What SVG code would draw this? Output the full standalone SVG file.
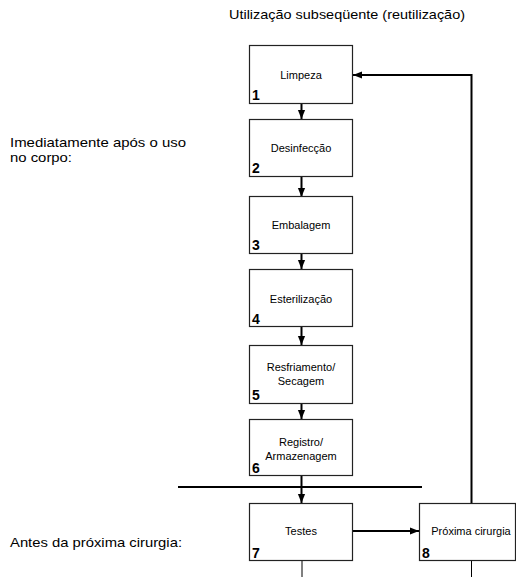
<svg xmlns="http://www.w3.org/2000/svg" width="516" height="577" viewBox="0 0 516 577">
<defs>
<marker id="ah" viewBox="0 0 10 10" refX="10" refY="5" markerWidth="4.5" markerHeight="4.5" orient="auto" markerUnits="strokeWidth">
<path d="M0,1 L10,5 L0,9 z" fill="#000"/>
</marker>
<style>
.box{fill:#fff;stroke:#222;stroke-width:1.2}
.lbl{font-family:"Liberation Sans",Arial,sans-serif;font-size:11px;fill:#000;text-anchor:middle}
.num{font-family:"Liberation Sans",Arial,sans-serif;font-size:14px;font-weight:bold;fill:#000}
.out{font-family:"Liberation Sans",Arial,sans-serif;font-size:13px;fill:#000}
.con{fill:none;stroke:#000;stroke-width:2}
.thin{fill:none;stroke:#000;stroke-width:1}
</style>
</defs>
<rect width="516" height="577" fill="#fff"/>
<text class="out" x="229" y="19" textLength="236" lengthAdjust="spacingAndGlyphs">Utilização subseqüente (reutilização)</text>
<text class="out" x="10" y="147" textLength="176" lengthAdjust="spacingAndGlyphs">Imediatamente após o uso</text>
<text class="out" x="10" y="162" textLength="62" lengthAdjust="spacingAndGlyphs">no corpo:</text>
<text class="out" x="10" y="547" textLength="172" lengthAdjust="spacingAndGlyphs">Antes da próxima cirurgia:</text>
<g id="connectors">
<line class="con" x1="301.5" y1="103" x2="301.5" y2="119" marker-end="url(#ah)"/>
<line class="con" x1="301.5" y1="177" x2="301.5" y2="197" marker-end="url(#ah)"/>
<line class="con" x1="301.5" y1="253" x2="301.5" y2="269" marker-end="url(#ah)"/>
<line class="con" x1="301.5" y1="327" x2="301.5" y2="345" marker-end="url(#ah)"/>
<line class="con" x1="301.5" y1="403" x2="301.5" y2="419" marker-end="url(#ah)"/>
<line class="con" x1="301.5" y1="475" x2="301.5" y2="503" marker-end="url(#ah)"/>
<line class="con" x1="178" y1="487" x2="422" y2="487"/>
<line class="con" x1="353" y1="531" x2="419" y2="531" marker-end="url(#ah)"/>
<polyline class="con" points="471.5,503 471.5,75 353,75" marker-end="url(#ah)"/>
<line class="thin" x1="302" y1="561" x2="302" y2="577"/>
<line class="thin" x1="471.5" y1="561" x2="471.5" y2="577"/>
</g>
<g id="n1"><rect class="box" x="249.5" y="45.5" width="103" height="58"/><text class="lbl" x="301" y="79">Limpeza</text><text class="num" x="252" y="100">1</text></g>
<g id="n2"><rect class="box" x="249.5" y="119.5" width="103" height="57"/><text class="lbl" x="301" y="152">Desinfecção</text><text class="num" x="252" y="173">2</text></g>
<g id="n3"><rect class="box" x="249.5" y="196.5" width="103" height="57"/><text class="lbl" x="301" y="229">Embalagem</text><text class="num" x="252" y="250">3</text></g>
<g id="n4"><rect class="box" x="249.5" y="269.5" width="103" height="57"/><text class="lbl" x="301" y="303">Esterilização</text><text class="num" x="252" y="324">4</text></g>
<g id="n5"><rect class="box" x="249.5" y="345.5" width="103" height="58"/><text class="lbl" x="301" y="371">Resfriamento/</text><text class="lbl" x="301" y="385">Secagem</text><text class="num" x="252" y="400">5</text></g>
<g id="n6"><rect class="box" x="249.5" y="419.5" width="103" height="56"/><text class="lbl" x="301" y="446">Registro/</text><text class="lbl" x="301" y="460">Armazenagem</text><text class="num" x="252" y="473">6</text></g>
<g id="n7"><rect class="box" x="249.5" y="503.5" width="103" height="57"/><text class="lbl" x="301" y="535">Testes</text><text class="num" x="252" y="558">7</text></g>
<g id="n8"><rect class="box" x="419.5" y="503.5" width="96" height="57"/><text class="lbl" x="471" y="535">Próxima cirurgia</text><text class="num" x="422" y="558">8</text></g>
</svg>
